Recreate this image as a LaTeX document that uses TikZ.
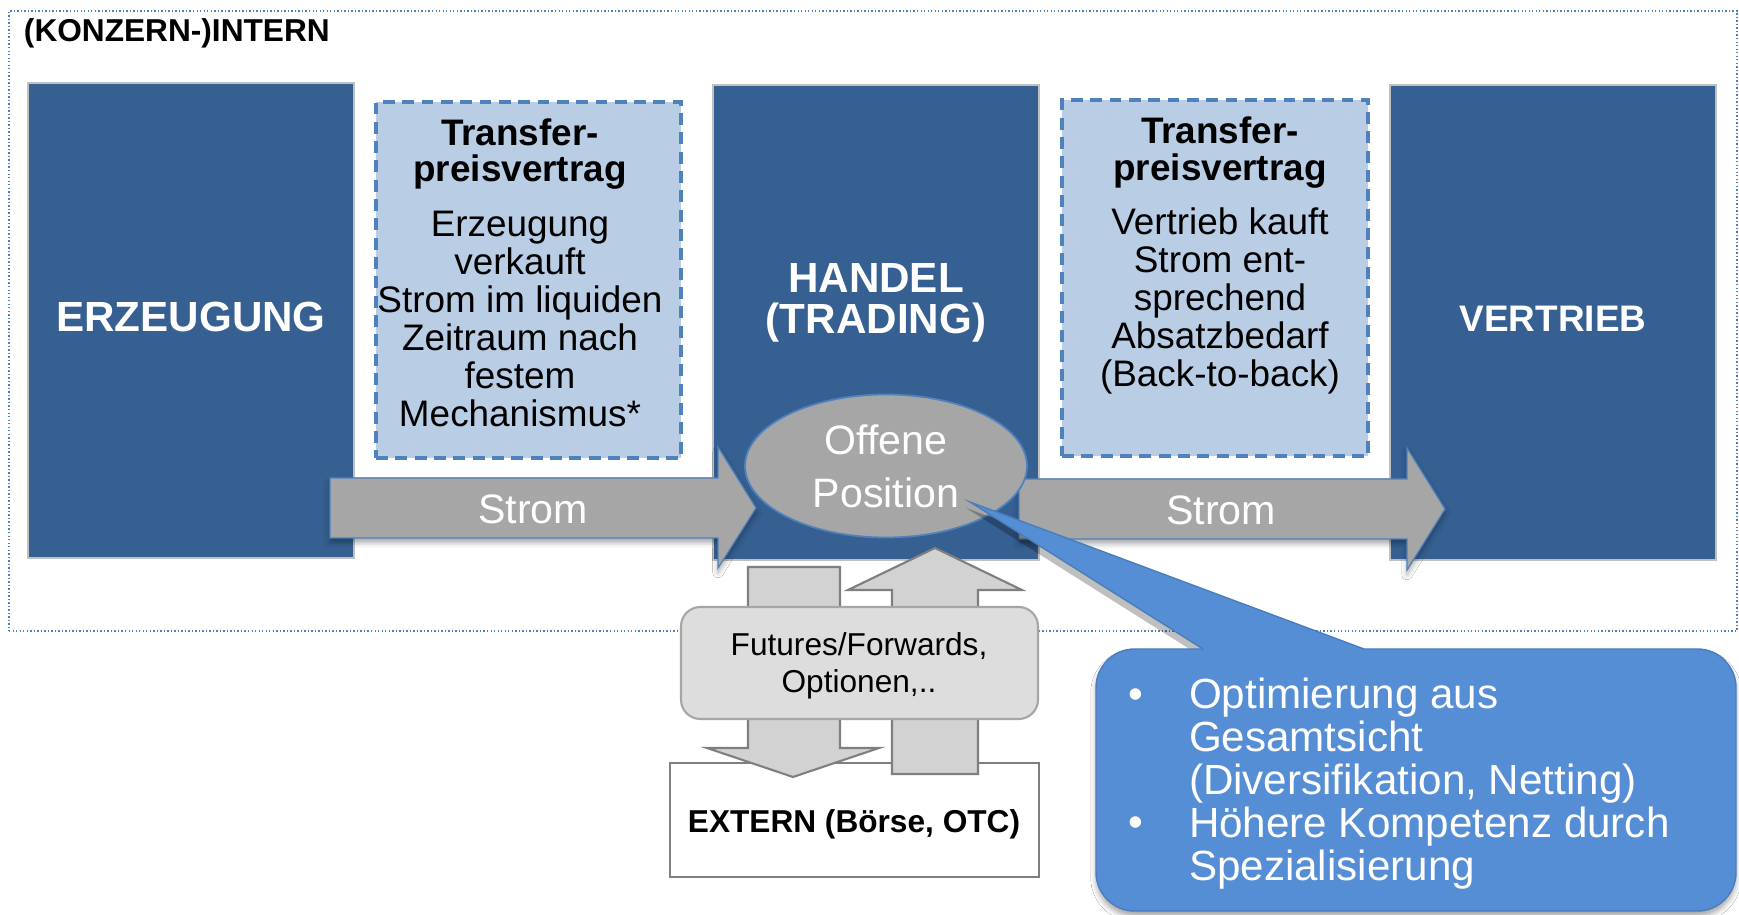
\documentclass[tikz,border=0pt]{standalone}
\usepackage{fontspec}
\setmainfont{Liberation Sans}
\usetikzlibrary{shapes.geometric,shadows.blur}

\definecolor{boxblue}{HTML}{366092}
\definecolor{boxedge}{HTML}{C0C0C0}
\definecolor{paleblue}{HTML}{B9CDE5}
\definecolor{accentblue}{HTML}{4F81BD}
\definecolor{flowgray}{HTML}{A6A6A6}
\definecolor{hedgefill}{HTML}{D2D2D2}
\definecolor{edgegray}{HTML}{7F7F7F}
\definecolor{instrfill}{HTML}{DDDDDD}
\definecolor{calloutblue}{HTML}{558ED5}
\definecolor{calloutedge}{HTML}{4A7EBB}

% centred / left-aligned stacks of lines; the box baseline is the first line
\newcommand\stackc[2]{\vtop{\baselineskip=#1\lineskiplimit=-20pt\lineskip=0pt\halign{\hfil##\hfil\cr#2\crcr}}}
\newcommand\stackl[2]{\vtop{\baselineskip=#1\lineskiplimit=-20pt\lineskip=0pt\halign{##\hfil\cr#2\crcr}}}

\tikzset{
  unitbox/.style={draw=boxedge, line width=0.6pt, fill=boxblue},
  unittext/.style={text=white, font=\bfseries\fontsize{12pt}{14pt}\selectfont, anchor=base},
  contract/.style={draw=accentblue, line width=1pt, dash pattern=on 3.4pt off 2.1pt, fill=paleblue},
  contracthead/.style={font=\bfseries\fontsize{10.5pt}{12pt}\selectfont, anchor=base},
  contractbody/.style={font=\fontsize{10.5pt}{12pt}\selectfont, anchor=base},
  flowarrow/.style={fill=flowgray, draw=accentblue, line width=0.35pt,
    blur shadow={shadow xshift=0pt, shadow yshift=-1.3pt, shadow blur radius=1.5pt, shadow opacity=35}},
  flowtext/.style={text=white, font=\fontsize{11.7pt}{14pt}\selectfont, anchor=base},
  hedgearrow/.style={fill=hedgefill, draw=edgegray, line width=0.6pt},
  notetext/.style={text=white, font=\fontsize{12pt}{14pt}\selectfont},
}

\begin{document}
\begin{tikzpicture}[x=0.1mm, y=-0.1mm, every node/.style={inner sep=0pt, outer sep=0pt}]
\useasboundingbox (0,0) rectangle (1739,915);
\fill[white] (0,0) rectangle (1739,915);

% group frame
\node[draw=accentblue, line width=0.4pt, dash pattern=on 0.4pt off 0.6pt,
      minimum width=172.8mm, minimum height=62mm] (intern) at (873,321) {};
\node[anchor=base west, font=\bfseries\fontsize{9pt}{11pt}\selectfont] (internT) at (24,42) {(KONZERN-)INTERN};

% business units
\node[unitbox, minimum width=32.6mm, minimum height=47.5mm] (erz) at (191,320.5) {};
\node[unitbox, minimum width=32.6mm, minimum height=47.5mm] (han) at (876,322.5) {};
\node[unitbox, minimum width=32.6mm, minimum height=47.5mm] (ver) at (1553,322.5) {};
\node[unittext] (erzT) at (191,332) {ERZEUGUNG};
\node[unittext] (hanT) at (876,293) {\stackc{11.4pt}{HANDEL\cr(TRADING)}};
\node[unittext, font=\bfseries\fontsize{10.5pt}{12pt}\selectfont] (verT) at (1553,332) {VERTRIEB};

% transfer price contracts
\node[contract, minimum width=30.5mm, minimum height=35.6mm] (tpL) at (528.5,280) {};
\node[contract, minimum width=30.6mm, minimum height=35.6mm] (tpR) at (1215,278) {};
\node[contracthead] (tpLh) at (520,146) {\stackc{10.2pt}{Transfer-\cr preisvertrag}};
\node[contractbody] (tpLb) at (520,237) {\stackc{10.8pt}{Erzeugung\cr verkauft\cr Strom im liquiden\cr Zeitraum nach\cr festem\cr Mechanismus*}};
\node[contracthead] (tpRh) at (1220,144) {\stackc{10.5pt}{Transfer-\cr preisvertrag}};
\node[contractbody] (tpRb) at (1220,235) {\stackc{10.75pt}{Vertrieb kauft\cr Strom ent-\cr sprechend\cr Absatzbedarf\cr (Back-to-back)}};

% power flows
\draw[flowarrow] (330,478) -- (718,478) -- (718,447) -- (756,508) -- (718,568) -- (718,538) -- (330,538) -- cycle;
\draw[flowarrow] (1019,479) -- (1407,479) -- (1407,448) -- (1445,509) -- (1407,570) -- (1407,539) -- (1019,539) -- cycle;
\node[flowtext] (stromL) at (533,524) {Strom};
\node[flowtext] (stromR) at (1221,525) {Strom};

% open position
\node[ellipse, fill=flowgray, draw=accentblue, line width=0.5pt,
      minimum width=28.2mm, minimum height=14.3mm] (pos) at (886,466) {};
\node[flowtext] (posT) at (886,455) {\stackc{14.8pt}{Offene\cr Position}};

% external market
\node[draw=edgegray, line width=0.6pt, fill=white, minimum width=36.9mm, minimum height=11.4mm] (ext) at (854.5,820) {};
\node[anchor=base, font=\bfseries\fontsize{9pt}{11pt}\selectfont] (extT) at (854,832) {EXTERN (Börse, OTC)};

% hedging flows
\draw[hedgearrow] (748,567) -- (840,567) -- (840,748) -- (879,748) -- (793,777) -- (707,748) -- (748,748) -- cycle;
\draw[hedgearrow] (892,774) -- (892,590) -- (848,590) -- (935,548) -- (1022,590) -- (978,590) -- (978,774) -- cycle;

% instruments
\node[draw=flowgray, line width=0.6pt, fill=instrfill, rounded corners=5.5pt,
      minimum width=35.7mm, minimum height=11.2mm] (instr) at (859.5,663) {};
\node[anchor=base, font=\fontsize{9pt}{11pt}\selectfont] (instrT) at (859,656) {\stackc{10.5pt}{Futures/Forwards,\cr Optionen,..}};

% callout
\coordinate (tip) at (970,502);
\fill[black, opacity=0.25] (1199,655) -- (966,508) -- (1360,655) -- cycle;
\node[fill=calloutblue, draw=calloutedge, line width=0.4pt, rounded corners=11pt,
      minimum width=64mm, minimum height=26.2mm,
      blur shadow={shadow xshift=0pt, shadow yshift=-1.5pt, shadow blur radius=1.5pt, shadow opacity=35}] (note) at (1416,780) {};
\fill[calloutblue] (1203,649) -- (tip) -- (1364,649) -- (1364,653) -- (1203,653) -- cycle;
\draw[calloutedge, line width=0.4pt] (1203,649) -- (tip) -- (1364,649);
\node[notetext, anchor=base] (b1) at (1136,708) {\textbullet};
\node[notetext, anchor=base] (b2) at (1136,837) {\textbullet};
\node[notetext, anchor=base west] (noteT) at (1189,708) {\stackl{12.3pt}{Optimierung aus\cr Gesamtsicht\cr (Diversifikation, Netting)\cr Höhere Kompetenz durch\cr Spezialisierung}};
\end{tikzpicture}
\end{document}
